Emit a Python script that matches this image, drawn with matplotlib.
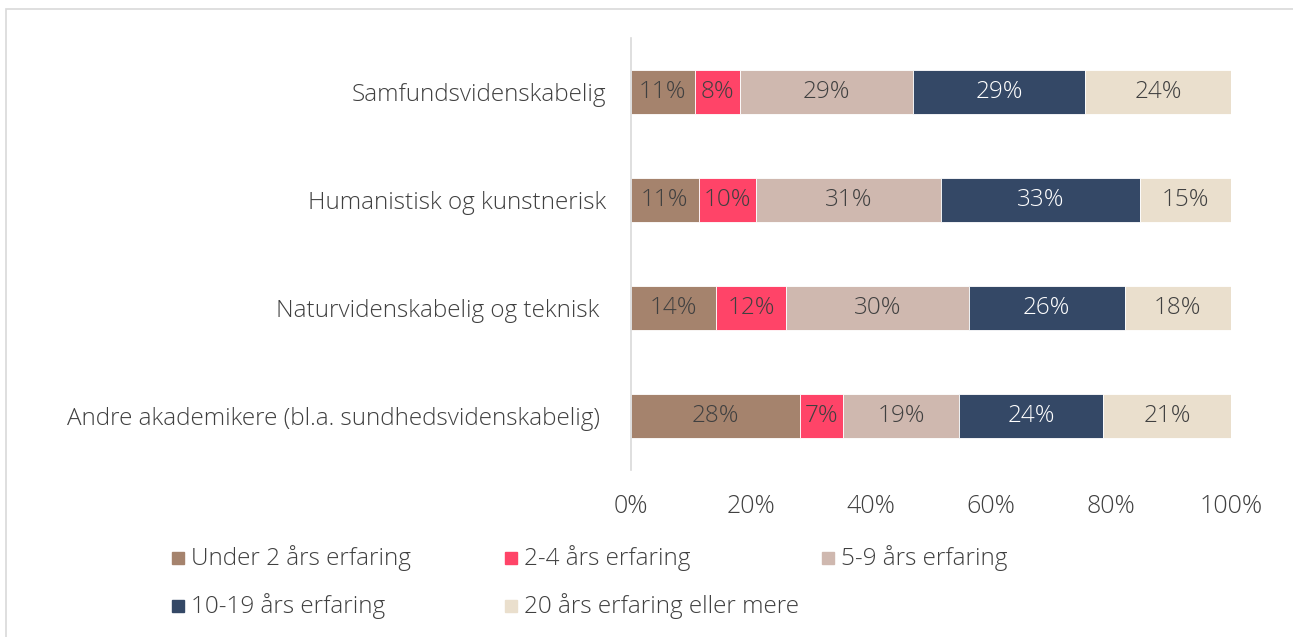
import matplotlib.pyplot as plt
from matplotlib.patches import Rectangle
import numpy as np

plt.rcParams['font.family'] = ['Open Sans', 'DejaVu Sans']

# data (share in %)
categories = ['Samfundsvidenskabelig', 'Humanistisk og kunstnerisk',
              'Naturvidenskabelig og teknisk ',
              'Andre akademikere (bl.a. sundhedsvidenskabelig) ']
series = ['Under 2 års erfaring', '2-4 års erfaring', '5-9 års erfaring',
          '10-19 års erfaring', '20 års erfaring eller mere']
under2 = [10.6, 11.3, 14.2, 28.2]
yrs2_4 = [7.6, 9.6, 11.6, 7.1]
yrs5_9 = [28.8, 30.8, 30.5, 19.4]
yrs10_19 = [28.7, 33.1, 26.0, 24.0]
yrs20 = [24.3, 15.2, 17.7, 21.3]
ticks = [0, 20, 40, 60, 80, 100]

colors = ['#A5836D', '#FF4468', '#CFB8AF', '#344866', '#EADFCD']
text_colors = ['#404040', '#404040', '#404040', 'white', '#404040']
txt = '#404040'
fs = 17.5
fw = 'light'

W, H = 1293, 637
fig = plt.figure(figsize=(W / 100, H / 100), dpi=100)
ax = fig.add_axes([631 / W, 1 - 470 / H, 600 / W, 432 / H])

# outer frame
fig.add_artist(Rectangle((6 / W, -0.01), 1.0, 1 - 9 / H + 0.01, transform=fig.transFigure,
                         fill=False, edgecolor='#d9d9d9', linewidth=1.2))

y = np.arange(len(categories))
left = np.zeros(len(categories))
for vals, col, tc in zip([under2, yrs2_4, yrs5_9, yrs10_19, yrs20], colors, text_colors):
    bars = ax.barh(y, vals, left=left, height=0.4, color=col, edgecolor='white', linewidth=0.6)
    ax.bar_label(bars, labels=[f'{round(v)}%' for v in vals], label_type='center',
                 color=tc, fontsize=fs, fontweight=fw)
    left += np.array(vals)

ax.set_xlim(0, 100)
ax.set_ylim(len(categories) - 0.5, -0.5)
ax.set_yticks(y)
ax.set_yticklabels(categories, fontsize=fs, color=txt, fontweight=fw)
ax.set_xticks(ticks)
ax.set_xticklabels([f'{t}%' for t in ticks], fontsize=18, color=txt, fontweight=fw)
ax.tick_params(axis='both', length=0)
ax.tick_params(axis='x', pad=17)
ax.tick_params(axis='y', pad=18)
for s in ['top', 'right', 'bottom']:
    ax.spines[s].set_visible(False)
ax.spines['left'].set_color('#d9d9d9')
ax.spines['left'].set_linewidth(1.2)

# legend, laid out like the original
leg_x = [172, 505, 822]
leg_y = [558, 606]
for i, (name, col) in enumerate(zip(series, colors)):
    px, py = leg_x[i % 3], leg_y[i // 3]
    fig.add_artist(Rectangle((px / W, 1 - (py + 6) / H), 12 / W, 12 / H,
                             transform=fig.transFigure, color=col))
    fig.text((px + 19) / W, 1 - py / H, name, fontsize=fs, color=txt,
             va='center', ha='left', fontweight=fw)

fig.savefig('out.png', dpi=100)
